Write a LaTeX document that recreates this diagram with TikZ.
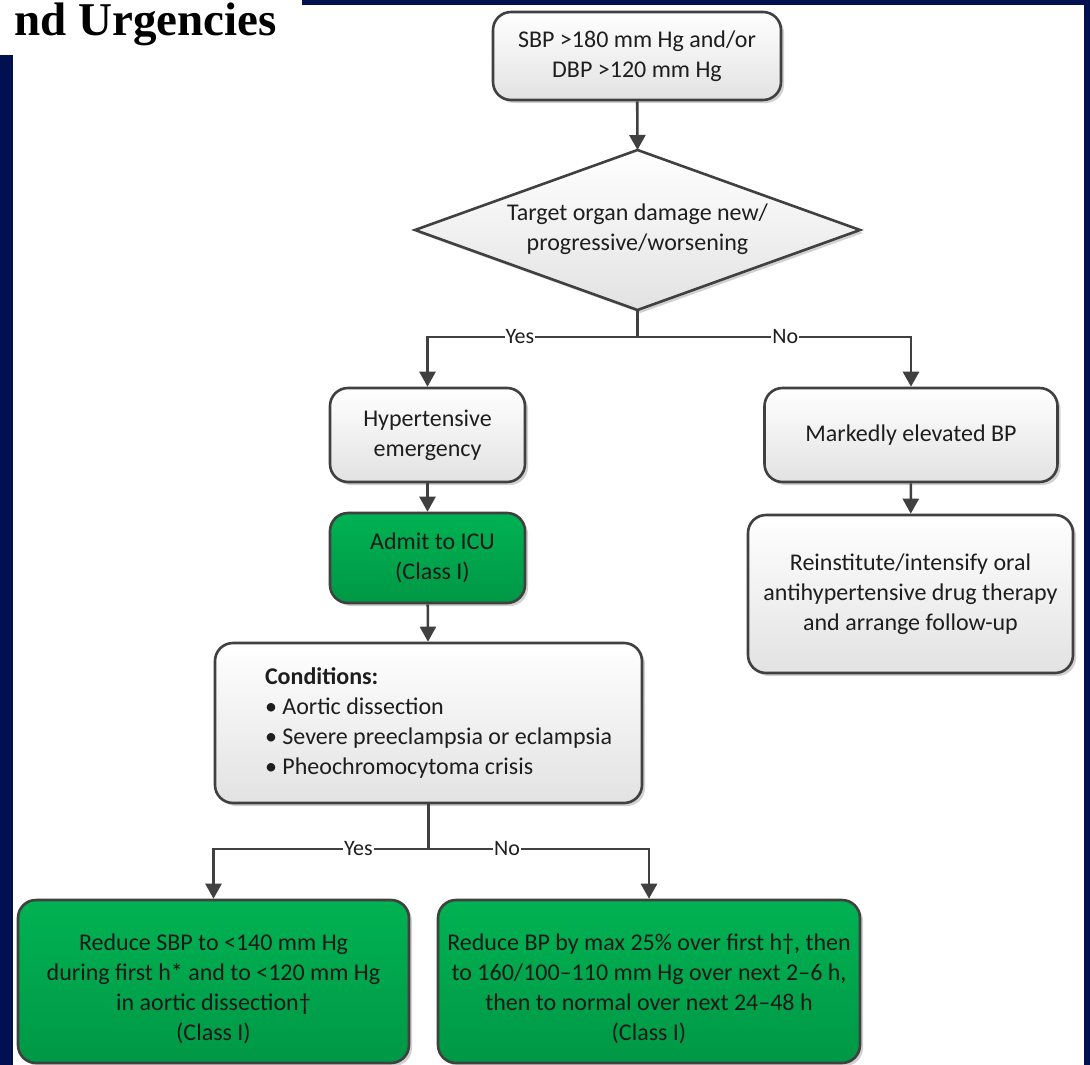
\documentclass[tikz,border=0pt]{standalone}
\usepackage{fontspec}
\setmainfont{Carlito}
\newfontfamily\ttlfont{Liberation Serif}
\usetikzlibrary{arrows.meta,shadows}
\definecolor{navy}{RGB}{0,16,80}
\definecolor{edgeclr}{RGB}{64,64,64}
\definecolor{txtclr}{RGB}{30,30,30}
\definecolor{gtop}{RGB}{0,178,82}
\definecolor{gbot}{RGB}{0,152,70}
\definecolor{wbot}{RGB}{226,226,226}
\newcommand\fsz{\fontsize{24}{30}\selectfont}
\tikzset{
  boxbase/.style={draw=edgeclr, line width=2.6pt, rounded corners=18pt, align=center,
    inner sep=0pt, text=txtclr, font=\fsz,
    drop shadow={shadow xshift=3pt, shadow yshift=-3pt, opacity=0.18, fill=black}},
  wbox/.style={boxbase, top color=white, bottom color=wbot},
  gbox/.style={boxbase, top color=gtop, bottom color=gbot, text=black!90},
  decis/.style={draw=edgeclr, line width=2.6pt, line join=miter, top color=white, bottom color=wbot,
    drop shadow={shadow xshift=3pt, shadow yshift=-3pt, opacity=0.18, fill=black}},
  dtext/.style={align=center, inner sep=0pt, text=txtclr, font=\fsz},
  conn/.style={draw=edgeclr, line width=2.6pt},
  arr/.style={conn, -{Triangle[width=16pt,length=15pt]}},
  lab/.style={fill=white, inner sep=1pt, text=txtclr, font=\fontsize{22}{26}\selectfont}
}
\begin{document}
\begin{tikzpicture}[x=1pt,y=-1pt]
\useasboundingbox (0,0) rectangle (1090,1065);
\fill[white] (0,0) rectangle (1090,1065);
% frame
\fill[navy] (302,0) rectangle (1090,5);
\fill[navy] (1084,0) rectangle (1090,1065);
\fill[navy] (0,55) rectangle (13,1065);
\node[anchor=base east, inner sep=0pt, font=\ttlfont\bfseries\fontsize{47}{50}\selectfont] (title) at (277,36) {nd Urgencies};

% decision diamond
\coordinate (dtop) at (637.5,150);
\coordinate (dbot) at (637.5,310);
\coordinate (dlft) at (415,230);
\coordinate (drgt) at (860,230);
\path[decis] (dtop) -- (drgt) -- (dbot) -- (dlft) -- cycle;
\node[dtext] (dia) at (637.5,229) {Target organ damage new/\\progressive/worsening};

% nodes
\node[wbox, minimum width=288pt, minimum height=88pt] (b1) at (637,56) {SBP >180 mm Hg and/or\\DBP >120 mm Hg};
\node[wbox, minimum width=195pt, minimum height=94pt] (he) at (427.5,435) {Hypertensive\\emergency};
\node[gbox, minimum width=195pt, minimum height=90pt] (icu) at (427.5,558) {\hspace*{10pt}Admit to ICU\\\hspace*{10pt}(Class I)};
\node[wbox, minimum width=427pt, minimum height=160pt, align=left] (cond) at (428.5,723)
  {\hspace*{20pt}\textbf{Conditions:}\\\hspace*{20pt}\textbullet\ Aortic dissection\\\hspace*{20pt}\textbullet\ Severe preeclampsia or eclampsia\\\hspace*{20pt}\textbullet\ Pheochromocytoma crisis};
\node[wbox, minimum width=293pt, minimum height=94pt] (mk) at (911,435) {Markedly elevated BP};
\node[wbox, minimum width=325pt, minimum height=158pt] (rein) at (910.5,594) {Reinstitute/intensify oral\\antihypertensive drug therapy\\and arrange follow-up};
\node[gbox, minimum width=391pt, minimum height=163pt] (bl) at (213.5,981.5) {\rule{0pt}{32pt}Reduce SBP to <140 mm Hg\\during first h* and to <120 mm Hg\\in aortic dissection†\\(Class I)};
\node[gbox, minimum width=422pt, minimum height=163pt] (br) at (649,981.5) {\rule{0pt}{32pt}Reduce BP by max 25\% over first h†, then\\to 160/100–110 mm Hg over next 2–6 h,\\then to normal over next 24–48 h\\(Class I)};

% connectors
\coordinate (j1) at (637.5,337);
\coordinate (j2) at (428.5,849);
\draw[arr] (b1) -- (dtop);
\draw[conn] (dbot) -- (j1);
\draw[arr] (j1) -| node[lab, pos=0.28] {Yes} (he.north);
\draw[arr] (j1) -| node[lab, pos=0.27] {No} (mk.north);
\draw[arr] (he) -- (icu);
\draw[arr] (icu) -- (cond);
\draw[arr] (mk) -- (rein);
\draw[conn] (cond.south) -- (j2);
\draw[arr] (j2) -| node[lab, pos=0.163] {Yes} (bl.north);
\draw[arr] (j2) -| node[lab, pos=0.178] {No} (br.north);
\end{tikzpicture}
\end{document}
